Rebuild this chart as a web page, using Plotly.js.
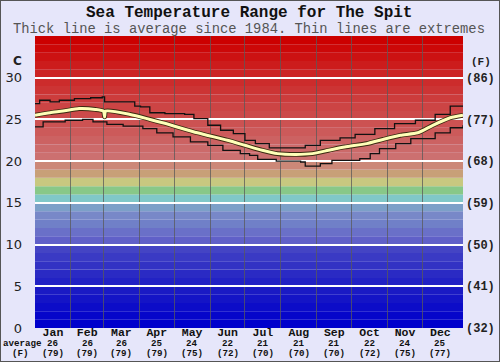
<!DOCTYPE html>
<html>
<head>
<meta charset="utf-8">
<script src="https://cdn.plot.ly/plotly-3.0.1.min.js"></script>
<style>
  html, body { margin: 0; padding: 0; background: #e6e6fa; }
  #wrap { position: relative; width: 500px; height: 362px; }
  #chart { width: 500px; height: 362px; }
  #frame { position: absolute; left: 0; top: 0; width: 500px; height: 362px; box-sizing: border-box; border: 1px solid #555; pointer-events: none; }
</style>
</head>
<body>
<div id="wrap"><div id="chart"></div><div id="frame"></div></div>
<script>
// ---- data ----
const months = ["Jan","Feb","Mar","Apr","May","Jun","Jul","Aug","Sep","Oct","Nov","Dec"];
const monthStarts = [0,31,59,90,120,151,181,212,243,273,304,334,365];
const avgC = [26,26,26,25,24,22,21,21,21,22,24,25];
const avgF = [79,79,79,79,75,72,70,70,70,72,75,77];

const maxDays = [0,4,13,21,34,48,58,60,73,86,91,99,112,129,137,149,160,171,181,190,202,219,233,246,263,276,293,310,328,345,358,369];
const maxTemp = [26.9,27.3,27.1,27.3,27.5,27.6,27.7,27.1,27.1,26.6,26.5,25.8,25.7,25.6,25.1,24.3,23.7,23.3,22.5,22.1,21.6,21.6,21.9,22.5,22.8,23.2,23.9,24.5,24.9,25.6,26.6,26.6];

const avgDays = [0,13,24,38,52,59,60,61,82,110,140,166,181,196,209,225,239,253,267,286,300,315,330,343,358,369];
const avgTemp = [25.5,25.8,26.0,26.3,26.2,26.0,25.3,26.0,25.6,24.6,23.4,22.5,21.9,21.3,20.9,20.8,20.9,21.3,21.7,22.1,22.6,23.1,23.4,24.3,25.2,25.5];

const minDays = [0,7,26,41,50,62,76,93,105,119,134,149,162,177,185,192,208,229,233,242,246,256,280,289,297,311,324,338,345,358,369];
const minTemp = [24.1,24.7,24.9,25.0,24.7,24.4,24.2,23.9,23.4,22.9,22.3,21.9,21.3,20.9,20.7,20.2,20.0,19.9,19.4,19.4,19.7,20.1,20.3,20.9,21.5,22.1,22.7,22.7,23.4,24.0,24.3];

const bandColors = ['#0000cc','#0606ca','#0c0cc8','#1414c6','#1a1ac4','#2222c4','#2a2ac4','#3232c4','#3a3ac4','#4444c4',
  '#6060c8','#6a70c8','#7080c8','#7888c8','#7ca0c8','#80c8c8','#88c888','#c8c880','#c8a078','#cc8878',
  '#cc7070','#cc6a6a','#cc6262','#cc5a5a','#cc5252','#cc4a4a','#cc4444','#cc3c3c','#cc3434','#cc2c2c',
  '#cc2424','#cc1c1c','#cc1212','#cc0808','#cc0000'];

const yTicksC = [0,5,10,15,20,25,30];
const yTicksF = [32,41,50,59,68,77,86];

// ---- build ----
const monthMids = months.map((m,i)=> (monthStarts[i]+monthStarts[i+1])/2);
const mono = "Liberation Mono, Courier New, monospace";
const PH = 292, PW = 428;
const rowC = -15/PH, rowF = -25.5/PH;

const shapes = bandColors.map((c,i)=>({
  type:'rect', xref:'paper', yref:'y', x0:0, x1:1, y0:i, y1:i+1,
  fillcolor:c, line:{width:0}, layer:'below'
}));

const traces = [
  {x:maxDays, y:maxTemp, mode:'lines', line:{color:'#111', width:1.3, shape:'hv'}, hoverinfo:'skip'},
  {x:minDays, y:minTemp, mode:'lines', line:{color:'#111', width:1.3, shape:'hv'}, hoverinfo:'skip'},
  {x:avgDays, y:avgTemp, mode:'lines', line:{color:'#3a2a10', width:4.8, shape:'spline', smoothing:0.6}, hoverinfo:'skip'},
  {x:avgDays, y:avgTemp, mode:'lines', line:{color:'#ffffb8', width:3.0, shape:'spline', smoothing:0.6}, hoverinfo:'skip'},
  {x:[0,369], y:[32,32], yaxis:'y2', mode:'lines', line:{width:0}, opacity:0, hoverinfo:'skip'}
];

const annotations = [
  {text:'<b>Sea Temperature Range for The Spit</b>', xref:'paper', yref:'paper', x:0.5, y:1+23/PH, xanchor:'center', yanchor:'middle', showarrow:false, font:{family:mono, size:16, color:'#111'}},
  {text:'Thick line is average since 1984. Thin lines are extremes', xref:'paper', yref:'paper', x:0.5, y:1+7/PH, xanchor:'center', yanchor:'middle', showarrow:false, font:{family:mono, size:13.8, color:'#555'}},
  {text:'<b>C</b>', xref:'paper', yref:'paper', x:-18/PW, y:1-25/PH, xanchor:'center', yanchor:'middle', showarrow:false, font:{family:'DejaVu Sans, sans-serif', size:12, color:'#222'}},
  {text:'<b>(F)</b>', xref:'paper', yref:'paper', x:1+18/PW, y:1-26/PH, xanchor:'center', yanchor:'middle', showarrow:false, font:{family:mono, size:11, color:'#222'}},
  {text:'<b>average</b>', xref:'paper', yref:'paper', x:-13/PW, y:rowC, xanchor:'center', yanchor:'middle', showarrow:false, borderpad:0, font:{family:mono, size:9.2, color:'#111'}},
  {text:'<b>(F)</b>', xref:'paper', yref:'paper', x:-15/PW, y:rowF, xanchor:'center', yanchor:'middle', showarrow:false, borderpad:0, font:{family:mono, size:9.2, color:'#111'}}
];
monthMids.forEach((d,i)=>{
  annotations.push({text:'<b>'+avgC[i]+'</b>', xref:'x', yref:'paper', x:d, y:rowC, xanchor:'center', yanchor:'middle', showarrow:false, borderpad:0, font:{family:mono, size:9.2, color:'#111'}});
  annotations.push({text:'<b>('+avgF[i]+')</b>', xref:'x', yref:'paper', x:d, y:rowF, xanchor:'center', yanchor:'middle', showarrow:false, borderpad:0, font:{family:mono, size:9.2, color:'#111'}});
});

const layout = {
  width:500, height:362,
  margin:{l:35, r:37, t:36, b:34, pad:0},
  paper_bgcolor:'#e6e6fa', plot_bgcolor:'#e6e6fa',
  showlegend:false,
  xaxis:{range:[0,369], tickvals:monthMids, ticktext:months.map(m=>'<b>'+m+'</b>'), ticks:'', showgrid:false, zeroline:false,
         tickfont:{family:mono, size:11.5, color:'#111'}, ticklabelstandoff:-5,
         minor:{tickvals:monthStarts.slice(1,12), showgrid:true, gridcolor:'rgba(90,90,90,0.75)', gridwidth:1, ticks:''},
         fixedrange:true},
  yaxis:{range:[0,35], tickvals:yTicksC, ticktext:yTicksC.map(String), showgrid:true, gridcolor:'#ffffff', gridwidth:2, zeroline:false,
         ticks:'', ticklabelstandoff:12, tickfont:{family:'DejaVu Sans, sans-serif', size:13, color:'#222'}, fixedrange:true},
  yaxis2:{range:[32,95], overlaying:'y', side:'right', tickvals:yTicksF, ticktext:yTicksF.map(v=>'<b>('+v+')</b>'), showgrid:false, zeroline:false,
          ticks:'', ticklabelstandoff:2, tickfont:{family:mono, size:12, color:'#222'}, fixedrange:true},
  shapes:shapes,
  annotations:annotations
};

Plotly.newPlot('chart', traces, layout, {staticPlot:true, displayModeBar:false});
</script>
</body>
</html>
